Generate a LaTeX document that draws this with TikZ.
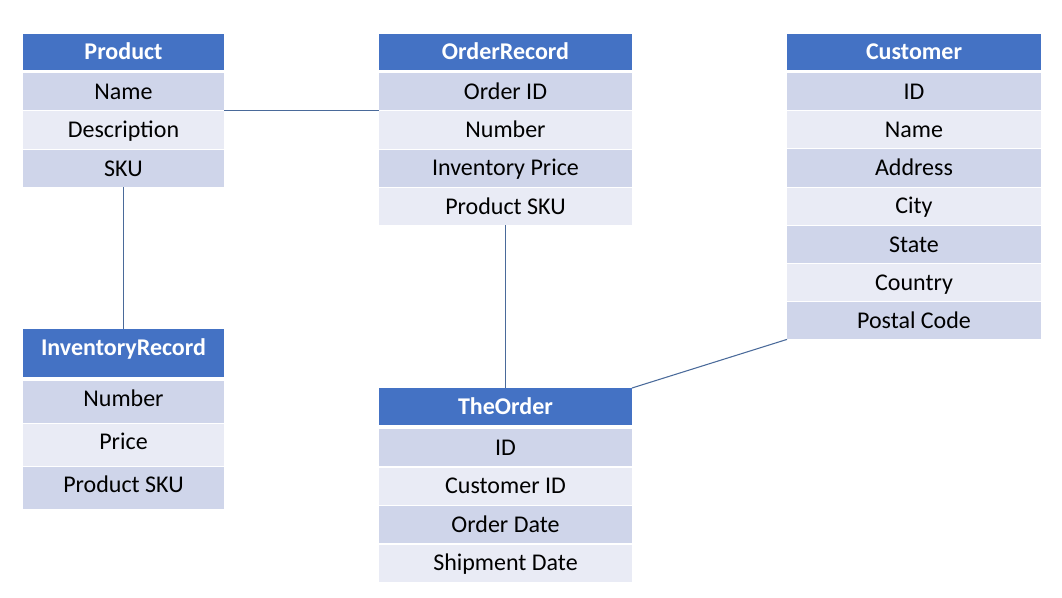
\documentclass[tikz,border=0pt]{standalone}
\usepackage{fontspec}
\setmainfont{Carlito}
\definecolor{hdrblue}{HTML}{4472C4}
\definecolor{rowdark}{HTML}{CFD5EA}
\definecolor{rowlight}{HTML}{E9EBF5}
\definecolor{linkblue}{HTML}{4A6A9A}
\begin{document}
\begin{tikzpicture}[x=0.75pt,y=-0.75pt,
  cellbase/.style={anchor=north west, inner sep=0pt, outer sep=0pt, text height=15.5pt, text depth=4pt, font=\fontsize{18}{22}\selectfont, text=black},
  hdr/.style={cellbase, fill=hdrblue, text=white, font=\fontsize{18}{22}\selectfont\bfseries},
  rowA/.style={cellbase, fill=rowdark},
  rowB/.style={cellbase, fill=rowlight},
  wS/.style={minimum width=150.75pt},
  wM/.style={minimum width=189.75pt},
  wC/.style={minimum width=190.5pt},
  hN/.style={minimum height=27pt},
  hR/.style={minimum height=28pt},
  hI/.style={minimum height=31.5pt, text depth=8.5pt},
  conn/.style={draw=linkblue, line width=0.8pt}
]
\useasboundingbox (0,0) rectangle (1062,598);

% Product
\node[hdr,wS,hN] (prod-h) at (23,34) {Product};
\node[rowA,wS,hR] (prod-1) at (23,73) {Name};
\node[rowB,wS,hR] (prod-2) at (23,111.5) {Description};
\node[rowA,wS,hR] (prod-3) at (23,150) {SKU};

% InventoryRecord
\node[hdr,wS,minimum height=36pt,text depth=11.5pt] (inv-h) at (23,329) {InventoryRecord};
\node[rowA,wS,hI] (inv-1) at (23,381) {Number};
\node[rowB,wS,hI] (inv-2) at (23,423.5) {Price};
\node[rowA,wS,hI] (inv-3) at (23,466.5) {Product SKU};

% OrderRecord
\node[hdr,wM,hN] (ordrec-h) at (379,34) {OrderRecord};
\node[rowA,wM,hR] (ordrec-1) at (379,73) {Order ID};
\node[rowB,wM,hR] (ordrec-2) at (379,111.3) {Number};
\node[rowA,wM,hR] (ordrec-3) at (379,149.6) {Inventory Price};
\node[rowB,wM,hR] (ordrec-4) at (379,187.9) {Product SKU};

% Customer
\node[hdr,wC,hN] (cust-h) at (787,34) {Customer};
\node[rowA,wC,minimum height=27.9pt] (cust-1) at (787,73) {ID};
\node[rowB,wC,minimum height=27.9pt] (cust-2) at (787,111.2) {Name};
\node[rowA,wC,minimum height=27.9pt] (cust-3) at (787,149.4) {Address};
\node[rowB,wC,minimum height=27.9pt] (cust-4) at (787,187.6) {City};
\node[rowA,wC,minimum height=27.9pt] (cust-5) at (787,225.8) {State};
\node[rowB,wC,minimum height=27.9pt] (cust-6) at (787,264) {Country};
\node[rowA,wC,minimum height=27.9pt] (cust-7) at (787,302.2) {Postal Code};

% TheOrder
\node[hdr,wM,minimum height=27.75pt] (ord-h) at (379,388) {TheOrder};
\node[rowA,wM,hR] (ord-1) at (379,429) {ID};
\node[rowB,wM,hR] (ord-2) at (379,467.5) {Customer ID};
\node[rowA,wM,hR] (ord-3) at (379,506) {Order Date};
\node[rowB,wM,hR] (ord-4) at (379,544.5) {Shipment Date};

% Connectors
\draw[conn] (prod-1.south east) -- (ordrec-1.south west);
\draw[conn] (prod-3.south) -- (inv-h.north);
\draw[conn] (ordrec-4.south) -- (ord-h.north);
\draw[conn] (cust-7.south west) -- (ord-h.north east);
\end{tikzpicture}
\end{document}
